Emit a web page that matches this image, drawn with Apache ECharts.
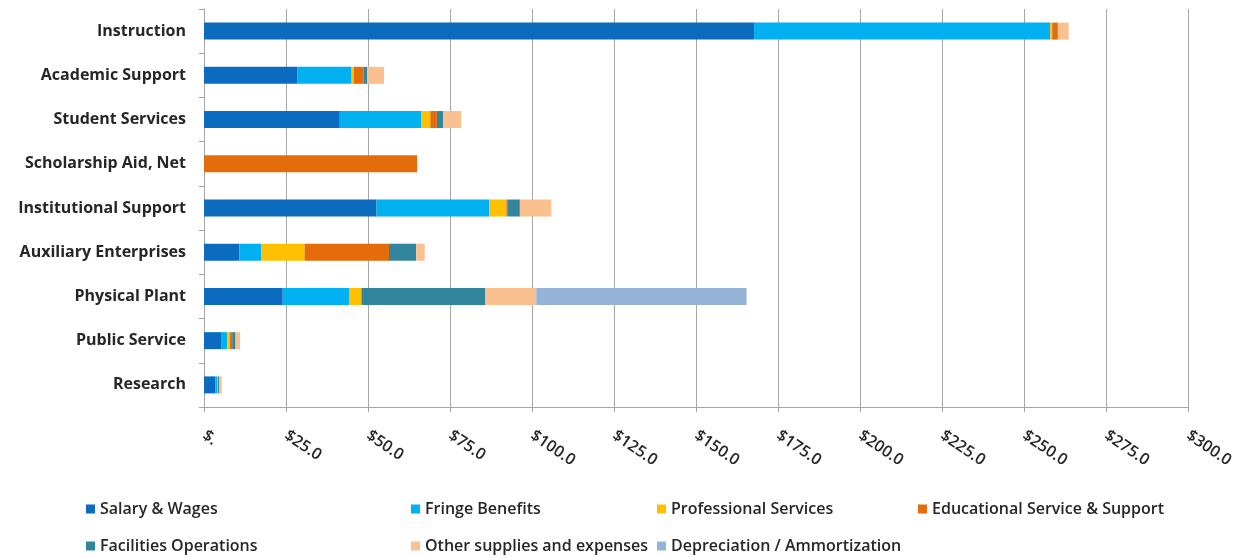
<!DOCTYPE html>
<html>
<head>
<meta charset="utf-8">
<script src="https://cdn.jsdelivr.net/npm/echarts@6/dist/echarts.min.js"></script>
<style>html,body{margin:0;padding:0;background:#fff;}#c{width:1256px;height:558px;}</style>
</head>
<body>
<div id="c"></div>
<script>
const categories = ["Instruction","Academic Support","Student Services","Scholarship Aid, Net","Institutional Support","Auxiliary Enterprises","Physical Plant","Public Service","Research"];
const seriesNames = ["Salary & Wages","Fringe Benefits","Professional Services","Educational Service & Support","Facilities Operations","Other supplies and expenses","Depreciation / Ammortization"];
const salary       = [167.7, 28.4, 41.4, 0,    52.6, 10.8, 24.0, 5.2, 3.5];
const fringe       = [90.3,  16.6, 24.9, 0,    34.3, 6.6,  20.2, 1.9, 0.6];
const professional = [0.6,   0.7,  2.7,  0,    5.3,  13.3, 3.8,  0.8, 0.1];
const educational  = [1.6,   3.0,  2.0,  65.0, 0.5,  25.7, 0,    0.7, 0.1];
const facilities   = [0.2,   1.0,  1.9,  0,    3.6,  8.3,  37.8, 1.0, 0.4];
const other        = [3.2,   5.2,  5.5,  0,    9.6,  2.6,  15.5, 1.4, 0.7];
const depreciation = [0,     0,    0,    0,    0,    0,    64.1, 0,   0];
const xTicks = [0, 25, 50, 75, 100, 125, 150, 175, 200, 225, 250, 275, 300];

const values = [salary, fringe, professional, educational, facilities, other, depreciation];
const colors = ["#0b6cbf","#00b0f0","#ffc000","#e46c0a","#31859c","#fac090","#95b3d7"];
const legendPos = [[81,496],[406,496],[652,496],[913,496],[81,533],[406,533],[652,533]];

const chart = echarts.init(document.getElementById('c'));
chart.setOption({
  animation: false,
  textStyle: {fontFamily: "Open Sans"},
  grid: {left: 204, right: 68, top: 9, bottom: 151, containLabel: false},
  legend: seriesNames.map((n, i) => ({
    data: [n], left: legendPos[i][0], top: legendPos[i][1],
    itemWidth: 9, itemHeight: 9, itemGap: 4, icon: 'rect',
    textStyle: {fontSize: 16, fontWeight: 600, color: '#262626', fontFamily: "Open Sans"}
  })),
  xAxis: {
    type: 'value', min: xTicks[0], max: xTicks[xTicks.length-1], interval: 25,
    axisLine: {show: true, lineStyle: {color: '#a6a6a6'}},
    axisTick: {show: true, length: 5, lineStyle: {color: '#a6a6a6'}},
    splitLine: {show: true, lineStyle: {color: '#a6a6a6', width: 1}},
    axisLabel: {
      rotate: -34, margin: 27, fontSize: 16, fontWeight: 600, color: '#262626',
      formatter: v => v === 0 ? '$.' : '$' + v.toFixed(1)
    }
  },
  yAxis: {
    type: 'category', data: categories, inverse: true,
    axisLine: {show: true, lineStyle: {color: '#a6a6a6'}},
    axisTick: {show: true, length: 5, lineStyle: {color: '#a6a6a6'}},
    axisLabel: {margin: 18, fontSize: 16, fontWeight: 'bold', color: '#262626'}
  },
  series: seriesNames.map((n, i) => ({
    name: n, type: 'bar', stack: 'total', data: values[i], barWidth: 17,
    itemStyle: {color: colors[i]}
  }))
});
</script>
</body>
</html>
